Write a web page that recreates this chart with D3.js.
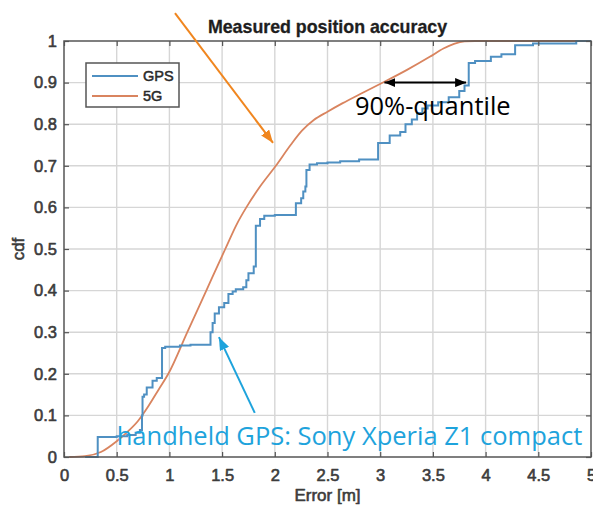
<!DOCTYPE html>
<html>
<head>
<meta charset="utf-8">
<script src="https://cdn.jsdelivr.net/npm/d3@7"></script>
<style>
  body { margin: 0; background: #fff; }
  svg { display: block; }
</style>
</head>
<body>
<svg id="chart" width="593" height="506"></svg>
<script>
// Axis ticks
const xTicks = [0, 0.5, 1, 1.5, 2, 2.5, 3, 3.5, 4, 4.5, 5];
const xTickLabels = ["0", "0.5", "1", "1.5", "2", "2.5", "3", "3.5", "4", "4.5", "5"];
const yTicks = [0, 0.1, 0.2, 0.3, 0.4, 0.5, 0.6, 0.7, 0.8, 0.9, 1];
const yTickLabels = ["0", "0.1", "0.2", "0.3", "0.4", "0.5", "0.6", "0.7", "0.8", "0.9", "1"];

const seriesNames = ["GPS", "5G"];

// Handheld GPS: empirical cdf (value jumps at each error)
const gpsError = [0.20, 0.32, 0.50, 0.60, 0.68, 0.72, 0.74, 0.745, 0.76, 0.785, 0.84, 0.88, 0.93, 0.96,
  1.10, 1.20, 1.39, 1.41, 1.43, 1.47, 1.52, 1.56, 1.60, 1.63, 1.70, 1.73, 1.75, 1.80, 1.82, 1.86, 1.90,
  2.00, 2.20, 2.25, 2.27, 2.29, 2.30, 2.33, 2.40, 2.50, 2.62, 2.80, 2.98, 3.09, 3.19, 3.24, 3.30, 3.35,
  3.40, 3.45, 3.55, 3.65, 3.75, 3.80, 3.84, 3.90, 4.05, 4.15, 4.28, 4.45, 4.86, 5.00];
const gpsCdf = [0, 0.048, 0.050, 0.053, 0.058, 0.065, 0.100, 0.145, 0.150, 0.167, 0.183, 0.190, 0.262, 0.265,
  0.268, 0.270, 0.300, 0.322, 0.345, 0.360, 0.370, 0.392, 0.398, 0.403, 0.408, 0.425, 0.442, 0.458, 0.556, 0.572, 0.580,
  0.582, 0.610, 0.622, 0.638, 0.650, 0.690, 0.703, 0.706, 0.708, 0.711, 0.715, 0.755, 0.773, 0.781, 0.800, 0.811, 0.827,
  0.838, 0.845, 0.853, 0.865, 0.880, 0.893, 0.947, 0.952, 0.962, 0.968, 0.990, 0.994, 1.000, 1.000];

// 5G positioning cdf
const fiveGError = [0.05, 0.20, 0.35, 0.50, 0.60, 0.70, 0.80, 0.90, 0.99, 1.17, 1.35, 1.53, 1.64, 1.73,
  1.86, 2.01, 2.15, 2.26, 2.37, 2.50, 2.64, 2.83, 3.04, 3.25, 3.47, 3.60, 3.70, 3.80, 3.90, 5.00];
const fiveGCdf = [0, 0.002, 0.012, 0.038, 0.060, 0.086, 0.122, 0.163, 0.200, 0.300, 0.400, 0.500, 0.560, 0.600,
  0.650, 0.700, 0.750, 0.785, 0.810, 0.830, 0.850, 0.875, 0.902, 0.930, 0.962, 0.982, 0.993, 0.999, 1.000, 1.000];

// 90 % quantiles of both systems
const quantileLevel = 0.9;
const quantileErrors = [3.04, 3.815];

const colors = { GPS: "#4f90c2", "5G": "#d9845f" };

const svg = d3.select("#chart");
const plot = { left: 64, right: 591, top: 41, bottom: 457 };

const x = d3.scaleLinear().domain([0, 5]).range([plot.left, plot.right]);
const y = d3.scaleLinear().domain([0, 1]).range([plot.bottom, plot.top]);

const tickFont = "'Liberation Sans', Arial, sans-serif";

// slightly heavier text, like the exported figure
function heavy(sel, color, w) {
  sel.attr("fill", color).attr("stroke", color).attr("stroke-width", w)
     .attr("paint-order", "stroke").attr("stroke-linejoin", "round");
}

// grid
const grid = svg.append("g").attr("stroke", "#d6d6d6").attr("stroke-width", 1.4);
grid.selectAll("line.gx").data(xTicks.slice(1, -1)).join("line")
  .attr("x1", d => x(d)).attr("x2", d => x(d)).attr("y1", plot.top).attr("y2", plot.bottom);
grid.selectAll("line.gy").data(yTicks.slice(1, -1)).join("line")
  .attr("y1", d => y(d)).attr("y2", d => y(d)).attr("x1", plot.left).attr("x2", plot.right);

// curves
const gpsPoints = gpsError.map((e, i) => [e, gpsCdf[i]]);
const fiveGPoints = fiveGError.map((e, i) => [e, fiveGCdf[i]]);

svg.append("path").datum(fiveGPoints)
  .attr("fill", "none").attr("stroke", colors["5G"]).attr("stroke-width", 1.8)
  .attr("d", d3.line().x(d => x(d[0])).y(d => y(d[1])).curve(d3.curveMonotoneX));

svg.append("path").datum(gpsPoints)
  .attr("fill", "none").attr("stroke", colors.GPS).attr("stroke-width", 2)
  .attr("d", d3.line().x(d => x(d[0])).y(d => y(d[1])).curve(d3.curveStepAfter));

// axes (ticks pointing inward, box on)
function styleAxis(g) {
  g.select(".domain").remove();
  g.selectAll(".tick line").attr("stroke", "#555").attr("stroke-width", 1.2);
  g.selectAll("text").attr("font-size", 16.5).attr("font-family", tickFont).call(heavy, "#3c3c3c", 0.6);
}
svg.append("g").attr("transform", `translate(0,${plot.bottom})`)
  .call(d3.axisBottom(x).tickValues(xTicks).tickFormat((d, i) => xTickLabels[i])
    .tickSizeInner(-5).tickSizeOuter(0).tickPadding(12))
  .call(styleAxis);
svg.append("g").attr("transform", `translate(0,${plot.top})`)
  .call(d3.axisTop(x).tickValues(xTicks).tickFormat("").tickSizeInner(-5).tickSizeOuter(0))
  .call(styleAxis);
svg.append("g").attr("transform", `translate(${plot.left},0)`)
  .call(d3.axisLeft(y).tickValues(yTicks).tickFormat((d, i) => yTickLabels[i])
    .tickSizeInner(-5).tickSizeOuter(0).tickPadding(7))
  .call(styleAxis);
svg.append("g").attr("transform", `translate(${plot.right},0)`)
  .call(d3.axisRight(y).tickValues(yTicks).tickFormat("").tickSizeInner(-5).tickSizeOuter(0))
  .call(styleAxis);

svg.append("rect")
  .attr("x", plot.left).attr("y", plot.top)
  .attr("width", plot.right - plot.left).attr("height", plot.bottom - plot.top)
  .attr("fill", "none").attr("stroke", "#555").attr("stroke-width", 1.5);

// title and axis labels
svg.append("text").attr("x", (plot.left + plot.right) / 2).attr("y", 33)
  .attr("text-anchor", "middle").attr("font-family", tickFont).attr("font-weight", "bold")
  .attr("font-size", 17.8).call(heavy, "#1e1e1e", 0.3).text("Measured position accuracy");
svg.append("text").attr("x", (plot.left + plot.right) / 2).attr("y", 501)
  .attr("text-anchor", "middle").attr("font-family", tickFont)
  .attr("font-size", 17).call(heavy, "#3c3c3c", 0.6).text("Error [m]");
svg.append("text")
  .attr("transform", `translate(24,${(plot.top + plot.bottom) / 2}) rotate(-90)`)
  .attr("text-anchor", "middle").attr("font-family", tickFont)
  .attr("font-size", 17).call(heavy, "#3c3c3c", 0.6).text("cdf");

// legend
const legend = svg.append("g");
legend.append("rect").attr("x", 86).attr("y", 63).attr("width", 93).attr("height", 44)
  .attr("fill", "#fff").attr("stroke", "#555").attr("stroke-width", 1.5);
seriesNames.forEach((name, i) => {
  const ly = 76 + i * 20;
  legend.append("line").attr("x1", 92).attr("x2", 138).attr("y1", ly).attr("y2", ly)
    .attr("stroke", colors[name]).attr("stroke-width", 2);
  legend.append("text").attr("x", 143).attr("y", ly + 5).attr("font-family", tickFont)
    .attr("font-size", 14.5).call(heavy, "#2a2a2a", 0.5).text(name);
});

// annotations
const defs = svg.append("defs");
function marker(id, color, len, wid) {
  defs.append("marker").attr("id", id)
    .attr("viewBox", `0 0 ${len} ${wid}`).attr("refX", len).attr("refY", wid / 2)
    .attr("markerWidth", len).attr("markerHeight", wid)
    .attr("markerUnits", "userSpaceOnUse").attr("orient", "auto-start-reverse")
    .append("path").attr("d", `M0,0L${len},${wid / 2}L0,${wid}Z`).attr("fill", color);
}
marker("arrOrange", "#f0861f", 13, 10);
marker("arrBlue", "#1ea3dc", 13, 10);
marker("arrBlack", "#000", 11, 9);

// 90 % quantile gap
svg.append("line")
  .attr("x1", x(quantileErrors[0])).attr("x2", x(quantileErrors[1]))
  .attr("y1", y(quantileLevel)).attr("y2", y(quantileLevel))
  .attr("stroke", "#000").attr("stroke-width", 2)
  .attr("marker-start", "url(#arrBlack)").attr("marker-end", "url(#arrBlack)");
svg.append("text").attr("x", x(2.76)).attr("y", y(0.822))
  .attr("font-family", "'Open Sans', sans-serif").attr("font-size", 25.5).attr("fill", "#000")
  .text("90%-quantile");

// pointer to the 5G curve
svg.append("line")
  .attr("x1", x(1.053)).attr("y1", y(1.067)).attr("x2", x(1.983)).attr("y2", y(0.755))
  .attr("stroke", "#f0861f").attr("stroke-width", 2).attr("marker-end", "url(#arrOrange)");

// pointer to the GPS curve
svg.append("line")
  .attr("x1", x(1.81)).attr("y1", y(0.106)).attr("x2", x(1.47)).attr("y2", y(0.288))
  .attr("stroke", "#1ea3dc").attr("stroke-width", 2).attr("marker-end", "url(#arrBlue)");
svg.append("text").attr("x", x(0.5)).attr("y", y(0.029))
  .attr("font-family", "'Open Sans', sans-serif").attr("font-size", 25.5).attr("fill", "#1ea3dc")
  .text("handheld GPS: Sony Xperia Z1 compact");
</script>
</body>
</html>
